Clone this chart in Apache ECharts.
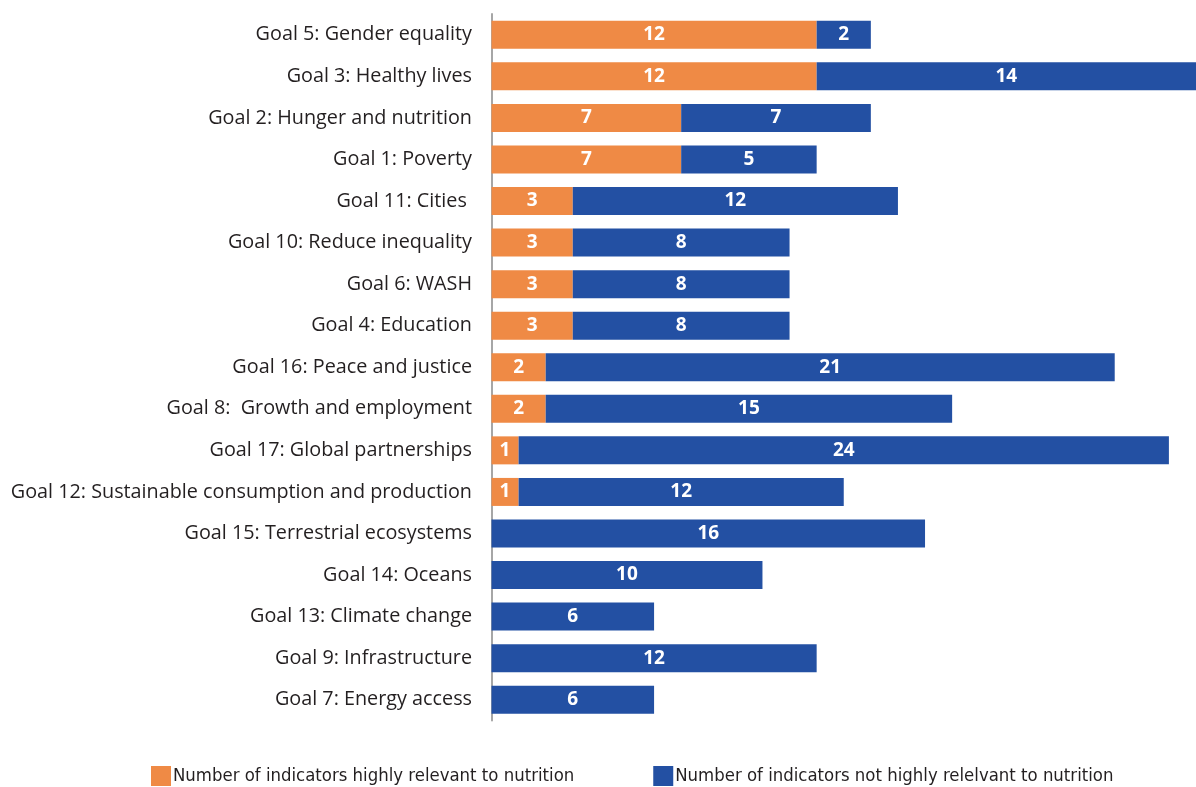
<!DOCTYPE html>
<html><head><meta charset="utf-8">
<script src="https://cdn.jsdelivr.net/npm/echarts@6/dist/echarts.min.js"></script>
<style>html,body{margin:0;padding:0;background:#fff}#c{width:1196px;height:787px}</style>
</head><body><div id="c"></div>
<script>
const categories = ["Goal 5: Gender equality","Goal 3: Healthy lives","Goal 2: Hunger and nutrition","Goal 1: Poverty","Goal 11: Cities ","Goal 10: Reduce inequality","Goal 6: WASH","Goal 4: Education","Goal 16: Peace and justice","Goal 8:  Growth and employment","Goal 17: Global partnerships","Goal 12: Sustainable consumption and production","Goal 15: Terrestrial ecosystems","Goal 14: Oceans","Goal 13: Climate change","Goal 9: Infrastructure","Goal 7: Energy access"];
const highlyRelevant = [12,12,7,7,3,3,3,3,2,2,1,1,0,0,0,0,0];
const notHighlyRelevant = [2,14,7,5,12,8,8,8,21,15,24,12,16,10,6,12,6];
const seriesNames = ["Number of indicators highly relevant to nutrition","Number of indicators not highly relelvant to nutrition"];

const chart = echarts.init(document.getElementById('c'));
const lbl = {show:true, position:'inside', color:'#fff', fontFamily:'Open Sans', fontWeight:'bold', fontSize:19,
  formatter: p => p.value ? String(p.value) : ''};
chart.setOption({
  animation:false,
  grid:{left:491.5, top:14, width:706.5, height:706.5, containLabel:false},
  legend:{top:766, left:151, padding:0, itemWidth:20, itemHeight:20, itemGap:79, icon:'rect',
    textStyle:{fontFamily:'DejaVu Sans Condensed', fontSize:18.4, color:'#231f20', padding:[2,0,0,-3]},
    data:seriesNames},
  xAxis:{type:'value', min:0, max:26, show:false},
  yAxis:{type:'category', data:categories, inverse:true,
    axisLine:{show:true, lineStyle:{color:'#a6a6a6', width:2}},
    axisTick:{show:false},
    axisLabel:{margin:19.5, fontFamily:'Open Sans', fontSize:19.8, color:'#231f20', padding:[3,0,0,0]}},
  series:[
    {name:seriesNames[0], type:'bar', stack:'a', data:highlyRelevant, barWidth:28, itemStyle:{color:'#EF8A45'}, label:lbl},
    {name:seriesNames[1], type:'bar', stack:'a', data:notHighlyRelevant, barWidth:28, itemStyle:{color:'#2350A3'}, label:lbl}
  ]
});
</script></body></html>
